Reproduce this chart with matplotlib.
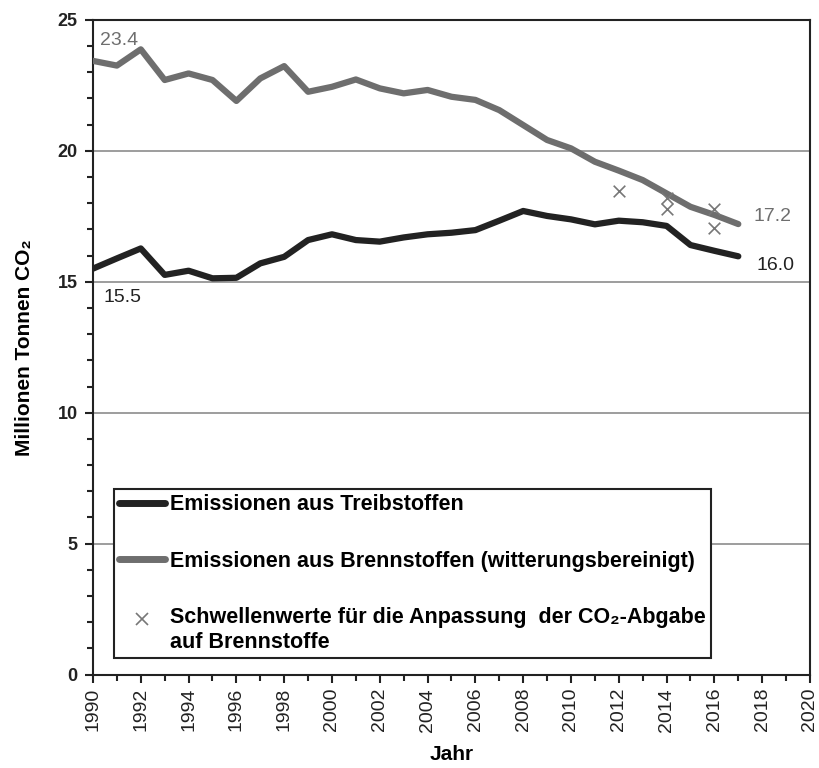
import matplotlib
matplotlib.use("Agg")
import matplotlib.pyplot as plt
from matplotlib.ticker import MultipleLocator
from matplotlib.lines import Line2D
from matplotlib.legend_handler import HandlerLine2D

years = list(range(1990, 2018))
treib = [15.5, 15.89, 16.27, 15.26, 15.42, 15.13, 15.15, 15.70, 15.95, 16.59,
         16.81, 16.59, 16.53, 16.69, 16.81, 16.87, 16.97, 17.33, 17.70, 17.51,
         17.38, 17.19, 17.33, 17.27, 17.13, 16.40, 16.18, 15.97]
brenn = [23.43, 23.25, 23.87, 22.70, 22.95, 22.70, 21.90, 22.76, 23.23, 22.25,
         22.44, 22.72, 22.38, 22.19, 22.32, 22.06, 21.94, 21.55, 20.98, 20.41,
         20.09, 19.58, 19.24, 18.88, 18.37, 17.86, 17.55, 17.2]
thr_years = [2012, 2014, 2014, 2016, 2016]
thr_vals = [18.45, 18.2, 17.78, 17.78, 17.05]

labels = ["Emissionen aus Treibstoffen",
          "Emissionen aus Brennstoffen (witterungsbereinigt)",
          "Schwellenwerte für die Anpassung  der CO₂-Abgabe\nauf Brennstoffe"]

FAM = ["Liberation Sans", "DejaVu Sans"]
plt.rcParams['font.family'] = FAM


class RaisedMarkerHandler(HandlerLine2D):
    def create_artists(self, legend, orig_handle, xdescent, ydescent,
                       width, height, fontsize, trans):
        arts = super().create_artists(legend, orig_handle, xdescent, ydescent,
                                      width, height, fontsize, trans)
        for a in arts:
            a.set_ydata([y + 8 for y in a.get_ydata()])
        return arts


fig = plt.figure(figsize=(8.2, 7.68), dpi=100)
ax = fig.add_axes([0.1134, 0.1215, 0.8744, 0.8528])

BLACK = "#222222"
GRAY = "#6e6e6e"

for v in [5, 10, 15, 20]:
    ax.axhline(v, color="#8c8c8c", lw=1.2, zorder=1)

ax.plot(years, treib, color=BLACK, lw=4.5, solid_capstyle="round", zorder=3)
ax.plot(years, brenn, color=GRAY, lw=4.5, solid_capstyle="round", zorder=3)
ax.scatter(thr_years, thr_vals, marker="x", s=70, color="#777777", linewidths=1.2, zorder=4)

ax.set_xlim(1990, 2020)
ax.set_ylim(0, 25)
ax.xaxis.set_major_locator(MultipleLocator(2))
ax.xaxis.set_minor_locator(MultipleLocator(1))
ax.yaxis.set_major_locator(MultipleLocator(5))
ax.yaxis.set_minor_locator(MultipleLocator(1))
ax.tick_params(axis="both", which="both", direction="out", color="#222222", width=1.5)
ax.tick_params(axis="both", which="major", length=6, labelcolor="#222222")
ax.tick_params(axis="x", which="major", labelsize=14, labelrotation=90)
ax.tick_params(axis="y", which="major", labelsize=13, pad=5)
ax.tick_params(axis="both", which="minor", length=4)
for lab in ax.get_yticklabels():
    lab.set_fontweight("bold")
for s in ax.spines.values():
    s.set_linewidth(1.5)
    s.set_color("#222222")

ax.set_xlabel("Jahr", fontsize=15, fontweight="bold", labelpad=10)
ax.set_ylabel("Millionen Tonnen CO₂", fontsize=15, fontweight="bold", labelpad=17)

ax.text(1990.3, 23.9, "23.4", color=GRAY, fontsize=14, va="bottom", ha="left")
ax.text(1990.45, 14.4, "15.5", color=BLACK, fontsize=14, va="center", ha="left")
ax.text(2017.65, 17.5, "17.2", color=GRAY, fontsize=14, va="center", ha="left")
ax.text(2017.75, 15.6, "16.0", color=BLACK, fontsize=14, va="center", ha="left")

h_thr = Line2D([], [], color="#777777", marker="x", ls="none", markersize=9, mew=1.2)
handles = [Line2D([], [], color=BLACK, lw=5, solid_capstyle="round"),
           Line2D([], [], color=GRAY, lw=5, solid_capstyle="round"),
           h_thr]
leg = ax.legend(handles, labels, loc="lower left", bbox_to_anchor=(0.0293, 0.0255),
                borderaxespad=0,
                frameon=True, fancybox=False, shadow=False, framealpha=1,
                edgecolor="#222222", handlelength=2.1, handletextpad=0.25,
                labelspacing=1.65, borderpad=0.25, handleheight=0.7,
                handler_map={h_thr: RaisedMarkerHandler()},
                prop={"weight": "bold", "size": 15.5})
leg.get_frame().set_linewidth(1.5)
leg.set_zorder(5)

fig.savefig("out.png", dpi=100)
